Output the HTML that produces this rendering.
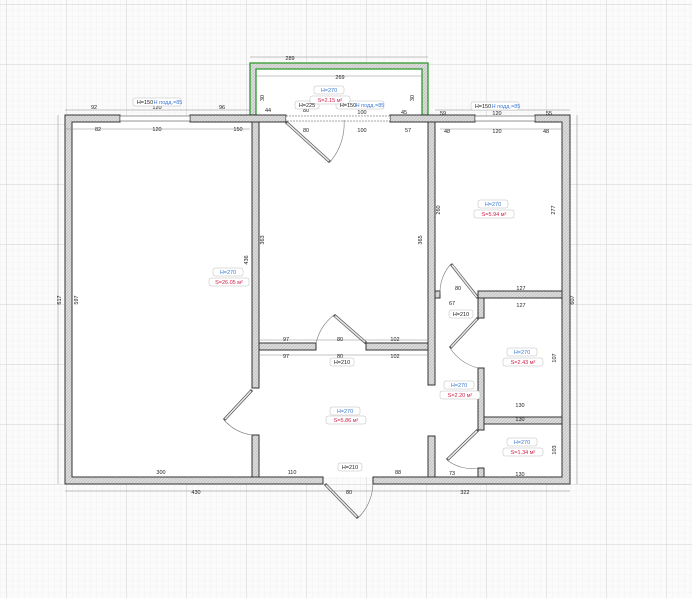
<!DOCTYPE html>
<html><head><meta charset="utf-8"><style>
html,body{margin:0;padding:0;background:#fbfbfb}
svg{display:block}
text{font-family:"Liberation Sans",sans-serif;font-size:5.5px;fill:#222;text-anchor:middle}
.b{fill:#3a7bd5}.r{fill:#d0204a}
</style></head><body>
<svg width="692" height="598" viewBox="0 0 692 598">
<defs>
<pattern id="mi" width="6" height="6" patternUnits="userSpaceOnUse" x="6" y="4"><path d="M0 0H6M0 0V6" stroke="#ececec" stroke-width="0.6" fill="none"/></pattern>
<pattern id="ma" width="60" height="60" patternUnits="userSpaceOnUse" x="6" y="4"><path d="M0 0H60M0 0V60" stroke="#d8d8d8" stroke-width="1.2" fill="none"/></pattern>
<pattern id="h" width="3" height="3" patternUnits="userSpaceOnUse"><rect width="3" height="3" fill="#dcdcdc"/><path d="M0 3L3 0" stroke="#b8b8b8" stroke-width="0.6"/></pattern>
</defs>
<rect width="692" height="598" fill="#fbfbfb"/>
<rect width="692" height="598" fill="url(#mi)"/>
<rect width="692" height="598" fill="url(#ma)"/>
<rect x="72" y="122" width="490" height="355" fill="#fff"/>
<rect x="256" y="69" width="166" height="46" fill="#fff"/>
<path d="M250 115V63H428V115H422V69H256V115Z" fill="url(#h)" stroke="#2a9a2a" stroke-width="1.3"/>
<g fill="url(#h)" stroke="#333" stroke-width="1">
<path d="M65 115H120V122H72V477H323V484H65Z"/>
<rect x="190" y="115" width="96" height="7"/>
<rect x="390" y="115" width="85" height="7"/>
<path d="M535 115H570V484H373V477H562V122H535Z"/>
<rect x="252" y="122" width="7" height="266"/>
<rect x="252" y="435" width="7" height="42"/>
<rect x="428" y="122" width="7" height="263"/>
<rect x="428" y="436" width="7" height="41"/>
<rect x="259" y="343" width="57" height="7"/>
<rect x="366" y="343" width="62" height="7"/>
<rect x="435" y="291" width="5" height="7"/>
<rect x="478" y="291" width="84" height="7"/>
<rect x="478" y="298" width="6" height="20"/>
<rect x="478" y="368" width="6" height="62"/>
<rect x="478" y="468" width="6" height="9"/>
<rect x="484" y="417" width="78" height="7"/>
</g>
<g fill="#fff" stroke="#555" stroke-width="0.6">
<rect x="120" y="116" width="70" height="5"/>
<rect x="475" y="116" width="60" height="5"/>
<rect x="286" y="116" width="104" height="5" stroke-dasharray="2 1"/>
</g>
<g fill="none" stroke="#555" stroke-width="3">
<path d="M286 122L330 162"/><path d="M366 343L334 315"/><path d="M252 390L224 420"/>
<path d="M478 318L450 348"/><path d="M478 430L447 460"/><path d="M478 298L451 264"/><path d="M325 484L358 518"/>
</g>
<g fill="none" stroke="#e8e8e8" stroke-width="1.6">
<path d="M287 123L329 161"/><path d="M365 342L335 316"/><path d="M251 391L225 419"/>
<path d="M477 319L451 347"/><path d="M477 431L448 459"/><path d="M477 297L452 265"/><path d="M326 485L357 517"/>
</g>
<g fill="none" stroke="#777" stroke-width="0.6">
<path d="M330 162A58 58 0 0 0 344 120"/><path d="M316 343A50 50 0 0 1 334 315"/>
<path d="M224 420A46 46 0 0 0 252 435"/><path d="M450 348A48 48 0 0 0 478 368"/>
<path d="M447 460A40 40 0 0 0 478 468"/><path d="M440 294A42 42 0 0 1 451 264"/>
<path d="M358 518A50 50 0 0 0 373 484"/>
</g>
<g stroke="#888" stroke-width="0.5">
<path d="M65 110H250M65 129H250M250 57H428M256 76H422M435 110H570M440 129H562M65 491H570M58 115V484M577 115V484"/>
<path d="M259 340H428M259 355H428"/>
</g>
<g>
<text x="290" y="60">289</text><text x="340" y="79">269</text>
<text x="94" y="109">92</text><text x="157" y="109">120</text><text x="222" y="109">96</text>
<text x="98" y="131">82</text><text x="157" y="131">120</text><text x="238" y="131">150</text>
<text x="268" y="112">44</text><text x="306" y="112">80</text><text x="362" y="114">100</text><text x="404" y="114">45</text>
<text x="306" y="132">80</text><text x="362" y="132">100</text><text x="408" y="132">57</text>
<text x="443" y="115">59</text><text x="497" y="115">120</text><text x="549" y="115">55</text>
<text x="447" y="133">48</text><text x="497" y="133">120</text><text x="546" y="133">48</text>
<text x="196" y="494">430</text><text x="465" y="494">322</text>
<text x="161" y="474">300</text><text x="292" y="474">110</text><text x="398" y="474">88</text>
<text x="286" y="341">97</text><text x="340" y="341">80</text><text x="395" y="341">102</text>
<text x="286" y="358">97</text><text x="340" y="358">80</text><text x="395" y="358">102</text>
<text x="349" y="494">80</text>
<text x="521" y="290">127</text><text x="521" y="307">127</text>
<text x="520" y="407">130</text><text x="520" y="421">130</text><text x="520" y="476">130</text>
<text x="458" y="290">80</text><text x="452" y="305">67</text><text x="452" y="475">73</text>
<text x="61" y="300" transform="rotate(-90 61 300)">617</text>
<text x="78" y="300" transform="rotate(-90 78 300)">597</text>
<text x="574" y="300" transform="rotate(-90 574 300)">607</text>
<text x="248" y="260" transform="rotate(-90 248 260)">436</text>
<text x="264" y="240" transform="rotate(-90 264 240)">363</text>
<text x="422" y="240" transform="rotate(-90 422 240)">365</text>
<text x="440" y="210" transform="rotate(-90 440 210)">260</text>
<text x="555" y="210" transform="rotate(-90 555 210)">277</text>
<text x="556" y="358" transform="rotate(-90 556 358)">107</text>
<text x="556" y="450" transform="rotate(-90 556 450)">103</text>
<text x="264" y="98" transform="rotate(-90 264 98)">30</text>
<text x="414" y="98" transform="rotate(-90 414 98)">30</text>
</g>
<g stroke="#bbb" stroke-width="0.5" fill="#fff">
<rect x="133" y="98" width="48" height="8" rx="2"/><rect x="471" y="102" width="48" height="8" rx="2"/>
<rect x="336" y="101" width="48" height="8" rx="2"/><rect x="295" y="101" width="24" height="8" rx="2"/>
<rect x="314" y="86" width="30" height="8" rx="2"/><rect x="310" y="96" width="40" height="8" rx="2"/>
<rect x="213" y="268" width="30" height="8" rx="2"/><rect x="209" y="278" width="40" height="8" rx="2"/>
<rect x="478" y="200" width="30" height="8" rx="2"/><rect x="474" y="210" width="40" height="8" rx="2"/>
<rect x="330" y="407" width="30" height="8" rx="2"/><rect x="326" y="416" width="40" height="8" rx="2"/>
<rect x="444" y="381" width="30" height="8" rx="2"/><rect x="440" y="391" width="40" height="8" rx="2"/>
<rect x="507" y="348" width="30" height="8" rx="2"/><rect x="503" y="358" width="40" height="8" rx="2"/>
<rect x="507" y="438" width="30" height="8" rx="2"/><rect x="503" y="448" width="40" height="8" rx="2"/>
<rect x="330" y="358" width="24" height="8" rx="2"/><rect x="338" y="463" width="24" height="8" rx="2"/>
<rect x="449" y="310" width="24" height="8" rx="2"/>
</g>
<text x="145" y="104">H=150</text><text class="b" x="168" y="104">H подд.=85</text>
<text x="483" y="108">H=150</text><text class="b" x="506" y="108">H подд.=85</text>
<text x="348" y="107">H=150</text><text class="b" x="370" y="107">H подд.=85</text>
<text x="307" y="107">H=225</text>
<text class="b" x="329" y="92">H=270</text><text class="r" x="330" y="102">S=2.15 м²</text>
<text class="b" x="228" y="274">H=270</text><text class="r" x="229" y="284">S=26.05 м²</text>
<text class="b" x="493" y="206">H=270</text><text class="r" x="494" y="216">S=5.94 м²</text>
<text class="b" x="345" y="413">H=270</text><text class="r" x="346" y="422">S=5.86 м²</text>
<text class="b" x="459" y="387">H=270</text><text class="r" x="460" y="397">S=2.20 м²</text>
<text class="b" x="522" y="354">H=270</text><text class="r" x="523" y="364">S=2.43 м²</text>
<text class="b" x="522" y="444">H=270</text><text class="r" x="523" y="454">S=1.34 м²</text>
<text x="342" y="364">H=210</text><text x="350" y="469">H=210</text><text x="461" y="316">H=210</text>
</svg>
</body></html>
